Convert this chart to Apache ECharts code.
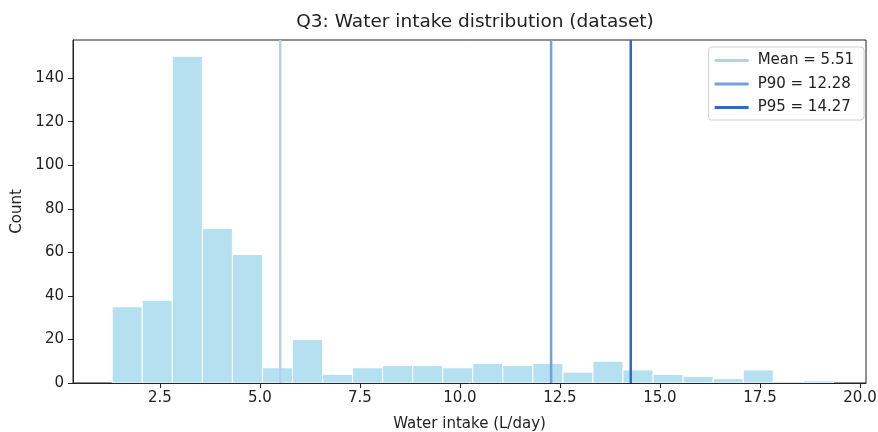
<!DOCTYPE html>
<html>
<head>
<meta charset="utf-8">
<title>Q3: Water intake distribution</title>
<script src="https://cdn.jsdelivr.net/npm/echarts@6/dist/echarts.min.js"></script>
<style>
  html, body { margin: 0; padding: 0; background: #fff; }
  #histChart { width: 878px; height: 432px; }
</style>
</head>
<body>
<div id="histChart"></div>
<script>
// bins: 24 bins of equal width
var binStart = 1.31;
var binWidth = 0.751;
var counts = [35, 38, 150, 71, 59, 7, 20, 4, 7, 8, 8, 7, 9, 8, 9, 5, 10, 6, 4, 3, 2, 6, 0, 1];

var refNames = ["Mean = 5.51", "P90 = 12.28", "P95 = 14.27"];
var refValues = [5.51, 12.28, 14.27];
var refColors = ["#b8cfec", "#74a0de", "#3169c8"];

var xTicks = [2.5, 5.0, 7.5, 10.0, 12.5, 15.0, 17.5, 20.0];
var yTicks = [0, 20, 40, 60, 80, 100, 120, 140];

var xMin = 0.33, xMax = 20.15, yMax = 157.5;

var binData = counts.map(function (c, i) {
  var lo = binStart + i * binWidth;
  return [lo, lo + binWidth, c];
});

var histChart = echarts.init(document.getElementById("histChart"));

var series = [
  {
    name: "hist",
    type: "custom",
    renderItem: function (params, api) {
      var p0 = api.coord([api.value(0), 0]);
      var p1 = api.coord([api.value(1), api.value(2)]);
      return {
        type: "rect",
        shape: { x: p0[0], y: p1[1], width: p1[0] - p0[0], height: p0[1] - p1[1] },
        style: { fill: "#b5e0ef", stroke: "#ffffff", lineWidth: 1 },
      };
    },
    encode: { x: [0, 1], y: 2 },
    data: binData,
    silent: true,
    z: 1,
  },
];

refValues.forEach(function (v, i) {
  series.push({
    name: refNames[i],
    type: "line",
    data: [[v, 0], [v, yMax]],
    showSymbol: false,
    symbol: "none",
    lineStyle: { color: refColors[i], width: 2.5 },
    itemStyle: { color: refColors[i] },
    silent: true,
    z: 3,
  });
});

var font = "DejaVu Sans";

var option = {
  animation: false,
  textStyle: { fontFamily: font },
  title: {
    text: "Q3: Water intake distribution (dataset)",
    left: 470,
    top: 8,
    textAlign: "center",
    textStyle: { fontFamily: font, fontSize: 18.5, fontWeight: "normal", color: "#222" },
  },
  legend: {
    orient: "vertical",
    right: 14,
    top: 47,
    data: refNames,
    icon: "rect",
    itemWidth: 34,
    itemHeight: 3,
    itemGap: 8.5,
    padding: [6, 10, 5, 6],
    borderColor: "#d0d0d0",
    borderWidth: 1,
    borderRadius: 3,
    backgroundColor: "#fff",
    textStyle: { fontFamily: font, fontSize: 15, color: "#222", padding: [0, 0, 0, 4] },
  },
  grid: {
    left: 73,
    right: 12,
    top: 40,
    bottom: 49,
    outerBoundsMode: "none",
    containLabel: false,
    show: true,
    borderColor: "#222",
    borderWidth: 1,
    backgroundColor: "transparent",
  },
  xAxis: {
    type: "value",
    min: xMin,
    max: xMax,
    z: 5,
    name: "Water intake (L/day)",
    nameLocation: "middle",
    nameGap: 34,
    nameTextStyle: { fontFamily: font, fontSize: 15, color: "#222" },
    axisLine: { show: true, onZero: false, lineStyle: { color: "#222", width: 1 } },
    axisTick: { show: true, inside: false, length: 5, customValues: xTicks, lineStyle: { color: "#222" } },
    axisLabel: {
      customValues: xTicks,
      formatter: function (v) { return v.toFixed(1); },
      fontFamily: font,
      fontSize: 15,
      color: "#222",
      margin: 8,
    },
    splitLine: { show: false },
  },
  yAxis: {
    type: "value",
    min: 0,
    max: yMax,
    z: 5,
    name: "Count",
    nameLocation: "middle",
    nameGap: 47,
    nameRotate: 90,
    nameTextStyle: { fontFamily: font, fontSize: 15, color: "#222" },
    axisLine: { show: true, lineStyle: { color: "#222", width: 1 } },
    axisTick: { show: true, inside: false, length: 5, customValues: yTicks, lineStyle: { color: "#222" } },
    axisLabel: {
      customValues: yTicks,
      fontFamily: font,
      fontSize: 15,
      color: "#222",
      margin: 9,
    },
    splitLine: { show: false },
  },
  series: series,
};

histChart.setOption(option);
</script>
</body>
</html>
